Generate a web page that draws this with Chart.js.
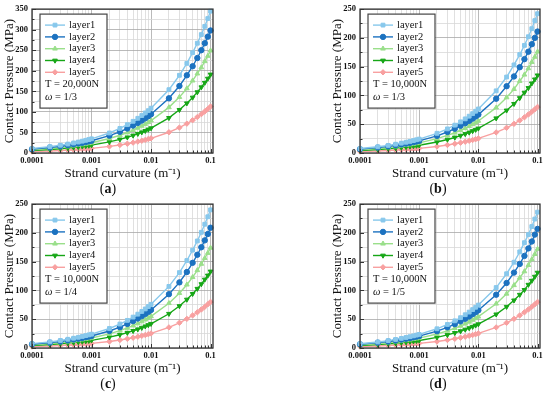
<!DOCTYPE html>
<html>
<head>
<meta charset="utf-8">
<script src="https://cdn.jsdelivr.net/npm/chart.js@4.4.1/dist/chart.umd.min.js"></script>
<style>
    body { margin: 0; background: #fff; width: 550px; height: 395px; position: relative; overflow: hidden; font-family: "Liberation Serif", serif; }
    .panel { position: absolute; }
    .cap { position: absolute; font-size: 14px; color: #111; transform: translateX(-50%); }
</style>
</head>
<body>
<div class="panel" style="left:0;top:0;width:225px;height:182px"><canvas id="chartA"></canvas></div>
<div class="panel" style="left:325px;top:0;width:225px;height:182px"><canvas id="chartB"></canvas></div>
<div class="panel" style="left:0;top:195px;width:225px;height:182px"><canvas id="chartC"></canvas></div>
<div class="panel" style="left:325px;top:195px;width:225px;height:182px"><canvas id="chartD"></canvas></div>
<div class="cap" style="left:108px;top:181px">(<b>a</b>)</div>
<div class="cap" style="left:438px;top:181px">(<b>b</b>)</div>
<div class="cap" style="left:108px;top:376px">(<b>c</b>)</div>
<div class="cap" style="left:438px;top:376px">(<b>d</b>)</div>
<script>
// 데이터
const curvature = [0.0001, 0.0002, 0.0003, 0.0004, 0.0005, 0.0006, 0.0007, 0.0008, 0.0009, 0.001,
    0.002, 0.003, 0.004, 0.005, 0.006, 0.007, 0.008, 0.009, 0.01,
    0.02, 0.03, 0.04, 0.05, 0.06, 0.07, 0.08, 0.09, 0.1];
const layerNames = ['layer1', 'layer2', 'layer3', 'layer4', 'layer5'];
const xTickLabels = ['0.0001', '0.001', '0.01', '0.1'];
const tensionLabels = ['T = 20,000N', 'T = 10,000N', 'T = 10,000N', 'T = 10,000N'];
const omegaLabels = ['1/3', '1/3', '1/4', '1/5'];
const yMaxes = [350, 250, 250, 250];

// (a)
const aLayer1 = [10.9, 15.4, 18.9, 21.8, 24.4, 26.7, 28.8, 30.8, 32.7, 34.5, 48.7, 59.7, 68.9, 77.1, 84.4, 91.2, 97.5, 103, 109, 154, 189, 218, 244, 267, 288, 308, 327, 345];
const aLayer2 = [9.4, 13.3, 16.3, 18.9, 21.1, 23.1, 24.9, 26.7, 28.3, 29.8, 42.2, 51.6, 59.6, 66.7, 73.0, 78.9, 84.3, 89.5, 94.3, 133, 163, 189, 211, 231, 250, 267, 283, 298];
const aLayer3 = [7.9, 11.1, 13.6, 15.7, 17.6, 19.3, 20.8, 22.3, 23.6, 24.9, 35.2, 43.1, 49.8, 55.6, 61.0, 65.8, 70.4, 74.7, 78.7, 111, 136, 157, 176, 193, 208, 223, 236, 249];
const aLayer4 = [6.0, 8.5, 10.5, 12.1, 13.5, 14.8, 16.0, 17.1, 18.1, 19.1, 27.0, 33.1, 38.2, 42.7, 46.8, 50.5, 54.0, 57.3, 60.4, 85.4, 105, 121, 135, 148, 160, 171, 181, 191];
const aLayer5 = [3.6, 5.0, 6.2, 7.1, 8.0, 8.7, 9.4, 10.1, 10.7, 11.3, 16.0, 19.6, 22.6, 25.2, 27.7, 29.9, 31.9, 33.9, 35.7, 50.5, 61.8, 71.4, 79.8, 87.4, 94.5, 101, 107, 113];

// (b)
const bLayer1 = [7.7, 10.8, 13.2, 15.3, 17.1, 18.7, 20.2, 21.6, 23.0, 24.2, 34.2, 41.9, 48.4, 54.1, 59.3, 64.0, 68.4, 72.6, 76.5, 108, 132, 153, 171, 187, 202, 216, 230, 242];
const bLayer2 = [6.7, 9.4, 11.6, 13.3, 14.9, 16.3, 17.6, 18.9, 20.0, 21.1, 29.8, 36.5, 42.2, 47.2, 51.7, 55.8, 59.7, 63.3, 66.7, 94.3, 116, 133, 149, 163, 176, 189, 200, 211];
const bLayer3 = [5.6, 7.9, 9.6, 11.1, 12.5, 13.6, 14.7, 15.8, 16.7, 17.6, 24.9, 30.5, 35.2, 39.4, 43.1, 46.6, 49.8, 52.8, 55.7, 78.8, 96.5, 111, 125, 136, 147, 158, 167, 176];
const bLayer4 = [4.3, 6.0, 7.4, 8.5, 9.5, 10.5, 11.3, 12.1, 12.8, 13.5, 19.1, 23.4, 27.0, 30.2, 33.1, 35.7, 38.2, 40.5, 42.7, 60.4, 74.0, 85.4, 95.5, 105, 113, 121, 128, 135];
const bLayer5 = [2.5, 3.6, 4.4, 5.1, 5.7, 6.2, 6.7, 7.2, 7.6, 8.0, 11.3, 13.9, 16.0, 17.9, 19.6, 21.2, 22.6, 24.0, 25.3, 35.8, 43.8, 50.6, 56.6, 62.0, 66.9, 71.5, 75.9, 80];

// (c)
const cLayer1 = [7.6, 10.7, 13.1, 15.2, 17.0, 18.6, 20.1, 21.5, 22.8, 24.0, 33.9, 41.6, 48.0, 53.7, 58.8, 63.5, 67.9, 72.0, 75.9, 107, 131, 152, 170, 186, 201, 215, 228, 240];
const cLayer2 = [6.6, 9.3, 11.4, 13.2, 14.8, 16.2, 17.5, 18.7, 19.8, 20.9, 29.6, 36.2, 41.8, 46.7, 51.2, 55.3, 59.1, 62.7, 66.1, 93.5, 114, 132, 148, 162, 175, 187, 198, 209];
const cLayer3 = [5.5, 7.8, 9.5, 11.0, 12.3, 13.5, 14.6, 15.6, 16.5, 17.4, 24.6, 30.1, 34.8, 38.9, 42.6, 46.0, 49.2, 52.2, 55.0, 77.8, 95.3, 110, 123, 135, 146, 156, 165, 174];
const cLayer4 = [4.2, 6.0, 7.3, 8.4, 9.4, 10.3, 11.1, 11.9, 12.6, 13.3, 18.8, 23.1, 26.6, 29.8, 32.6, 35.2, 37.7, 39.9, 42.1, 59.5, 72.9, 84.2, 94.1, 103, 111, 119, 126, 133];
const cLayer5 = [2.5, 3.6, 4.4, 5.1, 5.7, 6.2, 6.7, 7.2, 7.6, 8.0, 11.3, 13.9, 16.0, 17.9, 19.6, 21.2, 22.6, 24.0, 25.3, 35.8, 43.8, 50.6, 56.6, 62.0, 66.9, 71.5, 75.9, 80];

// (d)
const dLayer1 = [7.5, 10.5, 12.9, 14.9, 16.7, 18.3, 19.7, 21.1, 22.4, 23.6, 33.4, 40.9, 47.2, 52.7, 57.8, 62.4, 66.7, 70.8, 74.6, 105, 129, 149, 167, 183, 197, 211, 224, 236];
const dLayer2 = [6.6, 9.3, 11.3, 13.1, 14.6, 16.0, 17.3, 18.5, 19.7, 20.7, 29.3, 35.9, 41.4, 46.3, 50.7, 54.8, 58.6, 62.1, 65.5, 92.6, 113, 131, 146, 160, 173, 185, 197, 207];
const dLayer3 = [5.4, 7.7, 9.4, 10.9, 12.2, 13.3, 14.4, 15.4, 16.3, 17.2, 24.3, 29.8, 34.4, 38.5, 42.1, 45.5, 48.7, 51.6, 54.4, 76.9, 94.2, 109, 122, 133, 144, 154, 163, 172];
const dLayer4 = [4.1, 5.9, 7.2, 8.3, 9.3, 10.1, 11.0, 11.7, 12.4, 13.1, 18.5, 22.7, 26.2, 29.3, 32.1, 34.6, 37.0, 39.3, 41.4, 58.5, 71.7, 82.8, 92.6, 101, 110, 117, 124, 131];
const dLayer5 = [2.5, 3.6, 4.4, 5.1, 5.7, 6.2, 6.7, 7.2, 7.6, 8.0, 11.3, 13.9, 16.0, 17.9, 19.6, 21.2, 22.6, 24.0, 25.3, 35.8, 43.8, 50.6, 56.6, 62.0, 66.9, 71.5, 75.9, 80];

// 스타일
const lineColors = ['#88c8ec', '#1c72c0', '#9adf8a', '#16a616', '#f8a0a0'];
const markers = ['rect', 'circle', 'triangle', 'triangle', 'rectRot'];
const markerRot = [0, 0, 0, 180, 0];
const FONT = '"Liberation Serif", "Times New Roman", serif';

Chart.defaults.font.family = FONT;
Chart.defaults.color = '#111';

const isDecade = v => Math.abs(Math.log10(v) - Math.round(Math.log10(v))) < 1e-6;

// 범례 (그래프 안쪽 상자)
const insetLegend = {
    id: 'insetLegend',
    afterDatasetsDraw(chart, args, opts) {
        const ctx = chart.ctx;
        const area = chart.chartArea;
        const bx = area.left + 8, by = area.top + 5, bw = 67, bh = 94;
        ctx.save();
        ctx.fillStyle = '#fff';
        ctx.fillRect(bx, by, bw, bh);
        ctx.strokeStyle = '#444';
        ctx.lineWidth = 1.2;
        ctx.strokeRect(bx, by, bw, bh);
        ctx.textBaseline = 'middle';
        ctx.font = '10.5px ' + FONT;
        chart.data.datasets.forEach((ds, i) => {
            const y = by + 11 + i * 11.8;
            ctx.strokeStyle = ds.borderColor;
            ctx.lineWidth = ds.borderWidth;
            ctx.beginPath();
            ctx.moveTo(bx + 5, y);
            ctx.lineTo(bx + 25, y);
            ctx.stroke();
            ctx.fillStyle = ds.pointBackgroundColor;
            ctx.lineWidth = 1;
            Chart.helpers.drawPoint(ctx, {
                pointStyle: ds.pointStyle, radius: ds.pointRadius,
                rotation: ds.pointRotation, borderWidth: 1
            }, bx + 15, y);
            ctx.fillStyle = '#111';
            ctx.fillText(ds.label, bx + 29, y);
        });
        ctx.fillText(opts.tension, bx + 5, by + 11 + 5 * 11.8);
        const yo = by + 11 + 6 * 11.8 + 1;
        ctx.font = 'italic 10.5px ' + FONT;
        ctx.fillText('\u03c9', bx + 5, yo);
        const w = ctx.measureText('\u03c9').width;
        ctx.font = '10.5px ' + FONT;
        ctx.fillText(' = ' + opts.omega, bx + 5 + w, yo);
        ctx.restore();
    }
};

// 테두리 + 안쪽 눈금
const frame = {
    id: 'frame',
    afterDraw(chart) {
        const ctx = chart.ctx;
        const a = chart.chartArea;
        const xs = chart.scales.x, ys = chart.scales.y;
        ctx.save();
        ctx.strokeStyle = '#333';
        ctx.lineWidth = 1;
        ctx.beginPath();
        xs.ticks.forEach(t => {
            const px = Math.round(xs.getPixelForValue(t.value)) + 0.5;
            const len = isDecade(t.value) ? 4 : 2.5;
            ctx.moveTo(px, a.bottom);
            ctx.lineTo(px, a.bottom - len);
        });
        ys.ticks.forEach(t => {
            const py = Math.round(ys.getPixelForValue(t.value)) + 0.5;
            const len = t.value % 50 === 0 ? 4 : 2.5;
            ctx.moveTo(a.left, py);
            ctx.lineTo(a.left + len, py);
        });
        ctx.stroke();
        ctx.lineWidth = 1.3;
        ctx.strokeRect(a.left, a.top, a.right - a.left, a.bottom - a.top);
        ctx.restore();
    }
};

function makePanel(id, idx, series, yw, tp, rp) {
    const datasets = series.map((vals, i) => ({
        label: layerNames[i],
        data: curvature.map((c, j) => ({ x: c, y: vals[j] })),
        borderColor: lineColors[i],
        backgroundColor: lineColors[i],
        pointBackgroundColor: lineColors[i],
        pointBorderColor: lineColors[i],
        borderWidth: 1.4,
        pointStyle: markers[i],
        pointRotation: markerRot[i],
        pointRadius: 2.7,
        pointBorderWidth: 1,
        tension: 0,
        clip: false
    }));

    return new Chart(document.getElementById(id), {
        type: 'line',
        data: { datasets: datasets },
        options: {
            responsive: true,
            maintainAspectRatio: false,
            animation: false,
            devicePixelRatio: 1,
            layout: { padding: { left: 0, right: rp, top: tp, bottom: 0 } },
            plugins: {
                legend: { display: false },
                tooltip: { enabled: false },
                insetLegend: { tension: tensionLabels[idx], omega: omegaLabels[idx] }
            },
            scales: {
                x: {
                    type: 'logarithmic',
                    min: 0.0001,
                    max: 0.11,
                    afterBuildTicks: s => {
                        const t = [];
                        [0.0001, 0.001, 0.01].forEach(d => {
                            for (let m = 1; m <= 9; m++) t.push({ value: +(m * d).toPrecision(3) });
                        });
                        t.push({ value: 0.1 });
                        s.ticks = t;
                    },
                    afterFit: s => { s.height = 29; },
                    grid: {
                        drawTicks: false,
                        color: c => isDecade(c.tick.value) ? '#a8a8a8' : '#d8d8d8',
                        lineWidth: 0.8
                    },
                    border: { display: false },
                    ticks: {
                        autoSkip: false,
                        maxRotation: 0,
                        padding: 3,
                        font: { size: 8.5, weight: 'bold' },
                        color: '#111',
                        callback: v => isDecade(v) ? xTickLabels[Math.round(Math.log10(v)) + 4] : ''
                    },
                    title: {
                        display: true,
                        text: 'Strand curvature (m\u207b\u00b9)',
                        font: { size: 13 },
                        color: '#111',
                        padding: { top: 0, bottom: 1 }
                    }
                },
                y: {
                    min: 0,
                    max: yMaxes[idx],
                    afterFit: s => { s.width = yw; },
                    grid: {
                        drawTicks: false,
                        color: c => c.tick.value % 50 === 0 ? '#a8a8a8' : '#d8d8d8',
                        lineWidth: 0.8
                    },
                    border: { display: false },
                    ticks: {
                        stepSize: 25,
                        autoSkip: false,
                        padding: 4,
                        font: { size: 8.5, weight: 'bold' },
                        color: '#111',
                        callback: v => v % 50 === 0 ? v : ''
                    },
                    title: {
                        display: true,
                        text: 'Contact Pressure (MPa)',
                        font: { size: 13 },
                        color: '#111',
                        padding: { top: yw > 33 ? 5 : 2, bottom: 0 }
                    }
                }
            }
        },
        plugins: [insetLegend, frame]
    });
}

window.addEventListener('DOMContentLoaded', () => {
    makePanel('chartA', 0, [aLayer1, aLayer2, aLayer3, aLayer4, aLayer5], 32, 6, 12);
    makePanel('chartB', 1, [bLayer1, bLayer2, bLayer3, bLayer4, bLayer5], 35, 7, 10);
    makePanel('chartC', 2, [cLayer1, cLayer2, cLayer3, cLayer4, cLayer5], 32, 7, 12);
    makePanel('chartD', 3, [dLayer1, dLayer2, dLayer3, dLayer4, dLayer5], 35, 7, 10);
});
</script>
</body>
</html>
